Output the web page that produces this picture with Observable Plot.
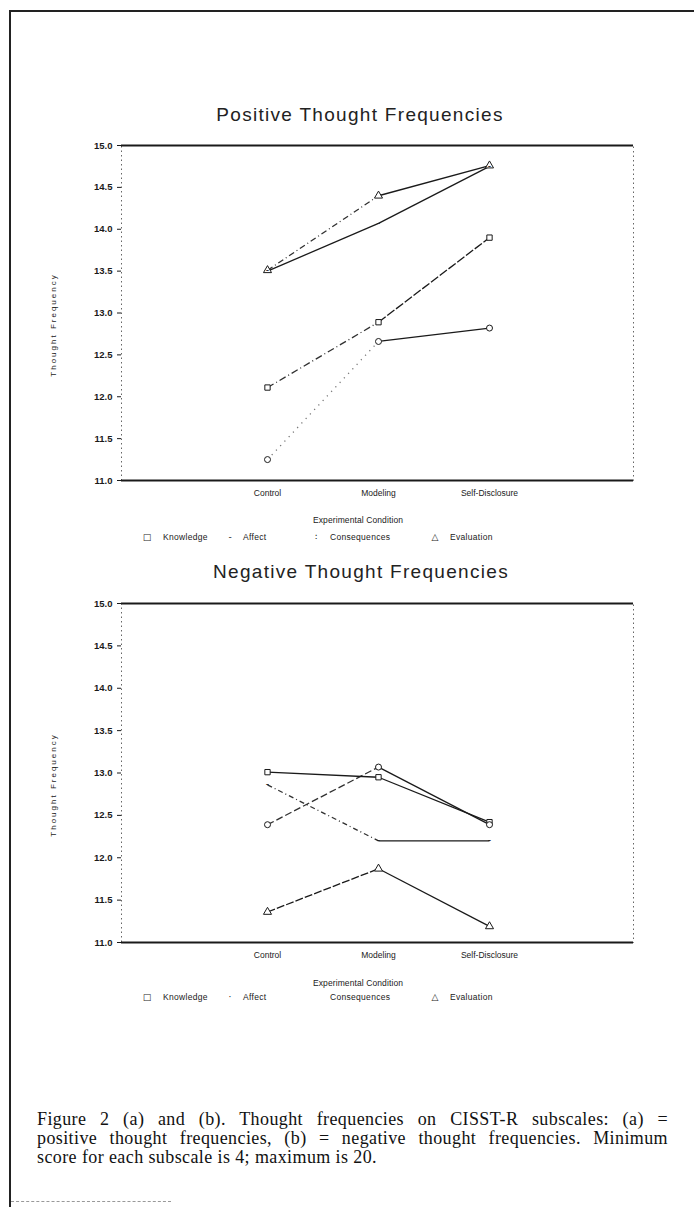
<!DOCTYPE html>
<html>
<head>
<meta charset="utf-8">
<script src="https://cdn.jsdelivr.net/npm/d3@7"></script>
<script src="https://cdn.jsdelivr.net/npm/@observablehq/plot@0.6"></script>
<style>
html, body { margin: 0; padding: 0; background: #fff; }
body { width: 694px; height: 1207px; position: relative; overflow: hidden;
       font-family: "Liberation Sans", Arial, sans-serif; color: #1a1a1a; }
.abs { position: absolute; white-space: nowrap; }
.c { transform: translate(-50%, -50%); }
.title { font-size: 19px; letter-spacing: 1.3px; line-height: 22px; color: #222; }
.ylab { font-size: 8px; letter-spacing: 2px; transform: translate(-50%, -50%) rotate(-90deg); }
.xlab { font-size: 8.5px; letter-spacing: 0.1px; }
.leg { font-size: 8.5px; letter-spacing: 0.3px; transform: translateY(-50%); }
.glyph { font-family: "DejaVu Sans", sans-serif; font-size: 9px; transform: translate(-50%, -50%); }
.cap { font-family: "Liberation Serif", "Times New Roman", serif; font-size: 18px; letter-spacing: 0.4px;
       left: 37px; width: 631px; line-height: 19px; color: #111; }
.just { text-align: justify; text-align-last: justify; white-space: normal; }
#border { position: absolute; left: 9px; top: 10px; width: 720px; height: 1220px;
          border-top: 2.5px solid #222; border-left: 2.5px solid #222; }
#bottomline { position: absolute; left: 11px; top: 1201px; width: 160px; border-top: 1px dashed #999; }
</style>
</head>
<body>
<div id="border"></div>
<div id="bottomline"></div>
<script>
// ---------- data ----------
const conditions = ["Control", "Modeling", "Self-Disclosure"];
const subscales = ["Knowledge", "Affect", "Consequences", "Evaluation"];
const yTicks = [11.0, 11.5, 12.0, 12.5, 13.0, 13.5, 14.0, 14.5, 15.0];

// Positive thought frequencies (Control, Modeling, Self-Disclosure)
const posKnowledge    = [12.11, 12.89, 13.90];
const posAffect       = [13.50, 14.07, 14.75];
const posConsequences = [11.25, 12.66, 12.82];
const posEvaluation   = [13.51, 14.40, 14.76];

// Negative thought frequencies (Control, Modeling, Self-Disclosure)
const negKnowledge    = [13.01, 12.95, 12.42];
const negAffect       = [12.86, 12.20, 12.20];
const negConsequences = [12.39, 13.07, 12.39];
const negEvaluation   = [11.36, 11.87, 11.19];

// ---------- styles (kept apart from data) ----------
const INK = "#1a1a1a";
const markerSymbol = { Knowledge: "square", Consequences: "circle", Evaluation: "triangle" };
const posSegStyle = {
  Knowledge:    [{dash: "7,3,1,3", op: 0.9}, {dash: "9,2", op: 1}],
  Affect:       [{dash: null, op: 1}, {dash: null, op: 1}],
  Consequences: [{dash: "1.2,5", op: 0.6}, {dash: null, op: 1}],
  Evaluation:   [{dash: "6,3,1,3", op: 0.9}, {dash: null, op: 1}]
};
const negSegStyle = {
  Knowledge:    [{dash: null, op: 1}, {dash: null, op: 1}],
  Affect:       [{dash: "5,3,1,3", op: 0.9}, {dash: null, op: 1}],
  Consequences: [{dash: "7,3", op: 0.9}, {dash: null, op: 1}],
  Evaluation:   [{dash: "8,2", op: 1}, {dash: null, op: 1}]
};

function chart(series, segStyle, top, plotH) {
  const rows = [];
  const segs = [];
  subscales.forEach((s, k) => {
    series[k].forEach((v, i) => rows.push({subscale: s, condition: conditions[i], value: v}));
    for (let i = 0; i < conditions.length - 1; i++) {
      segs.push({subscale: s, seg: i, c1: conditions[i], v1: series[k][i], c2: conditions[i + 1], v2: series[k][i + 1]});
    }
  });
  const marks = [
    Plot.frame({stroke: "#555", strokeDasharray: "1.5,3", strokeWidth: 0.9}),
    Plot.ruleY([yTicks[0], yTicks[yTicks.length - 1]], {stroke: INK, strokeWidth: 1.8}),
    Plot.axisY({ticks: yTicks, tickFormat: d3.format(".1f"), tickSize: 4, tickPadding: 5,
                fontSize: 9.5, fontWeight: "bold", label: null}),
    Plot.axisX({tickSize: 0, tickPadding: 9, fontSize: 8.5, label: null})
  ];
  segs.forEach(sg => {
    const st = segStyle[sg.subscale][sg.seg];
    marks.push(Plot.link([sg], {x1: "c1", y1: "v1", x2: "c2", y2: "v2", stroke: INK,
      strokeWidth: 1.3, strokeOpacity: st.op, strokeDasharray: st.dash || undefined}));
  });
  Object.keys(markerSymbol).forEach(s => {
    marks.push(Plot.dot(rows.filter(d => d.subscale === s), {x: "condition", y: "value",
      symbol: markerSymbol[s], r: 3, fill: "white", stroke: INK, strokeWidth: 1}));
  });
  marks.push(Plot.text(rows.filter(d => d.subscale === "Affect"), {x: "condition", y: "value",
    text: () => "-", fontSize: 10, fill: INK, dy: -1}));

  const svg = Plot.plot({
    width: 694,
    height: 10 + plotH + 75,
    marginTop: 10,
    marginBottom: 75,
    marginLeft: 121,
    marginRight: 61,
    x: {type: "point", domain: conditions, padding: 1.3, align: 0.505},
    y: {domain: [yTicks[0], yTicks[yTicks.length - 1]]},
    style: {fontFamily: "'Liberation Sans', Arial, sans-serif", color: INK, background: "transparent", overflow: "visible"},
    marks
  });
  svg.style.position = "absolute";
  svg.style.left = "0px";
  svg.style.top = (top - 10) + "px";
  document.body.appendChild(svg);
}

chart([posKnowledge, posAffect, posConsequences, posEvaluation], posSegStyle, 145, 335);
chart([negKnowledge, negAffect, negConsequences, negEvaluation], negSegStyle, 603, 339);

// ---------- text ----------
function addText(txt, cls, left, top, extra) {
  const d = document.createElement("div");
  d.className = "abs " + cls;
  d.textContent = txt;
  d.style.left = left + "px";
  d.style.top = top + "px";
  if (extra) Object.assign(d.style, extra);
  document.body.appendChild(d);
  return d;
}
addText("Positive Thought Frequencies", "title c", 360, 115);
addText("Negative Thought Frequencies", "title c", 361, 572);
addText("Thought Frequency", "ylab", 53, 325);
addText("Thought Frequency", "ylab", 53, 785);
addText("Experimental Condition", "xlab c", 358, 520);
addText("Experimental Condition", "xlab c", 358, 983);

const legendX = [163, 243, 330, 450];
const posGlyphs = ["□", "-", "∶", "△"];
const negGlyphs = ["□", "·", "", "△"];
const glyphX = [147, 230, 316, 435];
subscales.forEach((s, i) => {
  addText(s, "leg", legendX[i], 537);
  addText(posGlyphs[i], "glyph", glyphX[i], 537);
  addText(s, "leg", legendX[i], 997);
  if (negGlyphs[i]) addText(negGlyphs[i], "glyph", glyphX[i], 997);
});

const captionLines = [
  "Figure 2 (a) and (b). Thought frequencies on CISST-R subscales: (a) =",
  "positive thought frequencies, (b) = negative thought frequencies. Minimum",
  "score for each subscale is 4; maximum is 20."
];
addText(captionLines[0], "cap just", 37, 1110);
addText(captionLines[1], "cap just", 37, 1129);
addText(captionLines[2], "cap", 37, 1148);
</script>
</body>
</html>
